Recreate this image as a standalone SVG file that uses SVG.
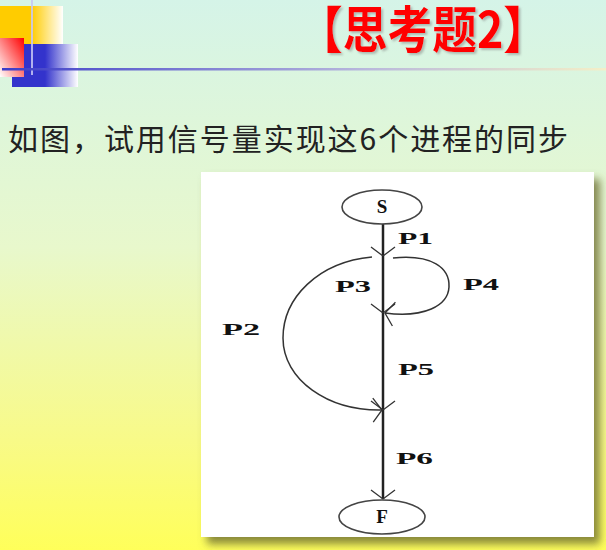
<svg xmlns="http://www.w3.org/2000/svg" width="606" height="550" viewBox="0 0 606 550">
  <defs>
    <linearGradient id="bg" x1="0" y1="0" x2="0" y2="1">
      <stop offset="0" stop-color="#d5f4e8"/>
      <stop offset="0.45" stop-color="#e8f8cc"/>
      <stop offset="0.8" stop-color="#f8fa88"/>
      <stop offset="1" stop-color="#ffff5a"/>
    </linearGradient>
    <linearGradient id="yel" x1="0" y1="0" x2="1" y2="0">
      <stop offset="0.5" stop-color="#ffcc00"/>
      <stop offset="1" stop-color="#ffffff"/>
    </linearGradient>
    <linearGradient id="blu" x1="0" y1="0" x2="1" y2="0">
      <stop offset="0.5" stop-color="#3333cc"/>
      <stop offset="1" stop-color="#ffffff"/>
    </linearGradient>
    <linearGradient id="red" x1="1" y1="0" x2="0" y2="1">
      <stop offset="0" stop-color="#ff0000"/>
      <stop offset="1" stop-color="#ffffff"/>
    </linearGradient>
    <linearGradient id="hl" x1="0" y1="0" x2="1" y2="0">
      <stop offset="0" stop-color="#3c3cc8"/>
      <stop offset="0.6" stop-color="#b8b8dc"/>
      <stop offset="1" stop-color="#f4efc8"/>
    </linearGradient>
    <filter id="shadow" x="-10%" y="-10%" width="130%" height="130%">
      <feDropShadow dx="6" dy="7" stdDeviation="4" flood-color="#6b6b30" flood-opacity="0.8"/>
    </filter>
    <filter id="tshadow" x="-5%" y="-20%" width="110%" height="150%">
      <feDropShadow dx="2" dy="2" stdDeviation="1.2" flood-color="#777" flood-opacity="0.45"/>
    </filter>
    <marker id="arr" markerUnits="userSpaceOnUse" viewBox="-12 -14 14 28" refX="0" refY="0" markerWidth="14" markerHeight="28" orient="auto">
      <path d="M -9 -12 L 0 0 L -9 12" fill="none" stroke="#333" stroke-width="1.3"/>
    </marker>
    <style>
      .lbl { font-family: "Liberation Serif", serif; font-weight: bold; font-size: 16px; fill: #111; }
      .nlbl { font-family: "Liberation Serif", serif; font-weight: bold; font-size: 19px; fill: #111; }
      .node { fill: #fff; stroke: #444; stroke-width: 1.6; }
      .edge { fill: none; stroke: #333; stroke-width: 1.5; marker-end: url(#arr); }
      .main { stroke: #222; stroke-width: 2.5; }
    </style>
  </defs>

  <rect x="0" y="0" width="606" height="550" fill="url(#bg)"/>

  <!-- decoration -->
  <rect x="0" y="6" width="63" height="40" fill="url(#yel)"/>
  <rect x="12" y="44" width="66" height="43" fill="url(#blu)"/>
  <rect x="0" y="38" width="24" height="39" fill="url(#red)"/>
  <line x1="32" y1="0" x2="32" y2="75" stroke="#c8c8f4" stroke-width="2" opacity="0.85"/>
  <rect x="2" y="68" width="604" height="2.5" fill="url(#hl)"/>

  <!-- title -->
  <text x="298" y="48" font-family="Noto Sans CJK SC, sans-serif" font-weight="bold" font-size="50" fill="#ff0000" filter="url(#tshadow)" textLength="250" lengthAdjust="spacingAndGlyphs">【思考题2】</text>

  <text x="8" y="150" font-family="Noto Sans CJK SC, sans-serif" font-size="30" fill="#222" textLength="560" lengthAdjust="spacing">如图，试用信号量实现这6个进程的同步</text>

  <!-- figure panel -->
  <rect x="201" y="172" width="393" height="365" fill="#ffffff" filter="url(#shadow)"/>

  <g id="connectors">
    <path id="e-P1" class="edge main" d="M 383 224 L 383 256"/>
    <path id="e-P3" class="edge main" d="M 383 256 L 383 313"/>
    <path id="e-P5" class="edge main" d="M 383 313 L 383 410"/>
    <path id="e-P6" class="edge main" d="M 383 410 L 383 499"/>
    <path id="e-P4" class="edge" d="M 393 258 C 432 254 450 268 449 287 C 448 306 424 318 385 313"/>
    <path id="e-P2" class="edge" d="M 372 257 C 318 262 283 298 283 338 C 283 380 328 411 382 410"/>
  </g>

  <g id="node-S">
    <ellipse class="node" cx="382" cy="207" rx="40" ry="17"/>
    <text class="nlbl" x="382" y="213" text-anchor="middle">S</text>
  </g>
  <g id="node-F">
    <ellipse class="node" cx="382" cy="517" rx="43" ry="17"/>
    <text class="nlbl" x="382" y="523" text-anchor="middle">F</text>
  </g>

  <g id="labels">
    <text class="lbl" x="398" y="244" textLength="35" lengthAdjust="spacingAndGlyphs">P1</text>
    <text class="lbl" x="335" y="292" textLength="36" lengthAdjust="spacingAndGlyphs">P3</text>
    <text class="lbl" x="463" y="290" textLength="36" lengthAdjust="spacingAndGlyphs">P4</text>
    <text class="lbl" x="222" y="335" textLength="38" lengthAdjust="spacingAndGlyphs">P2</text>
    <text class="lbl" x="398" y="375" textLength="36" lengthAdjust="spacingAndGlyphs">P5</text>
    <text class="lbl" x="396" y="464" textLength="37" lengthAdjust="spacingAndGlyphs">P6</text>
  </g>
</svg>
